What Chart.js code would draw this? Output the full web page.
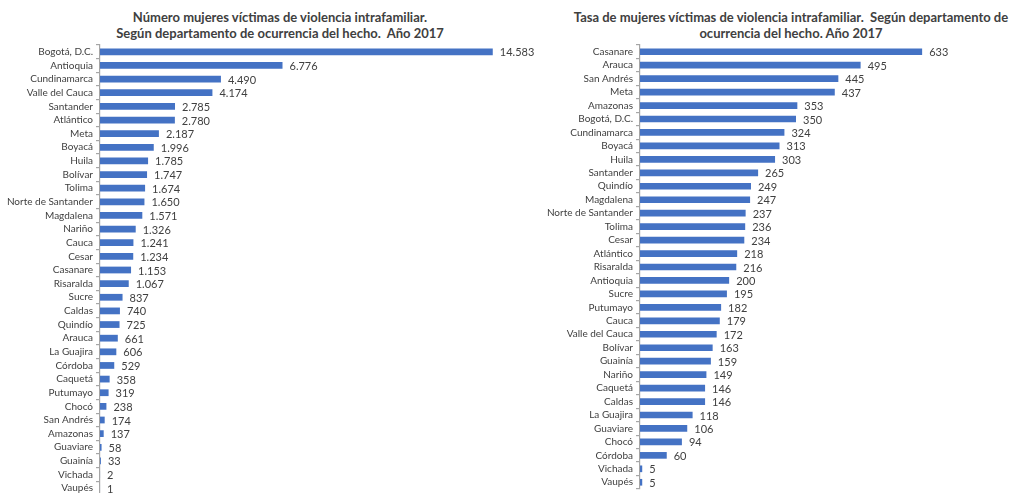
<!DOCTYPE html>
<html>
<head>
<meta charset="utf-8">
<script src="https://cdn.jsdelivr.net/npm/chart.js@4"></script>
<style>
  html, body { margin: 0; padding: 0; background: #fff; width: 1031px; height: 493px; overflow: hidden; }
  .titulo { position: absolute; font: bold 13px Lato, sans-serif; color: #404040; text-align: center; line-height: 16px; white-space: nowrap; }
  .lienzo { position: absolute; top: 0; }
</style>
</head>
<body>
<div class="titulo" style="left:0; width:560px; top:9px;">Número mujeres víctimas de violencia intrafamiliar.<br>Según departamento de ocurrencia del hecho.&nbsp; Año 2017</div>
<div class="titulo" style="left:548px; width:486px; top:9px;">Tasa de mujeres víctimas de violencia intrafamiliar.&nbsp; Según departamento de<br>ocurrencia del hecho. Año 2017</div>
<div class="lienzo" style="left:0; width:545px; height:504px;"><canvas id="graf-numero"></canvas></div>
<div class="lienzo" style="left:545px; width:486px; height:498px;"><canvas id="graf-tasa"></canvas></div>
<script>
// Número de mujeres víctimas por departamento
const deptosNumero = ['Bogotá, D.C.','Antioquia','Cundinamarca','Valle del Cauca','Santander','Atlántico','Meta','Boyacá','Huila','Bolívar','Tolima','Norte de Santander','Magdalena','Nariño','Cauca','Cesar','Casanare','Risaralda','Sucre','Caldas','Quindío','Arauca','La Guajira','Córdoba','Caquetá','Putumayo','Chocó','San Andrés','Amazonas','Guaviare','Guainía','Vichada','Vaupés'];
const valoresNumero = [14583,6776,4490,4174,2785,2780,2187,1996,1785,1747,1674,1650,1571,1326,1241,1234,1153,1067,837,740,725,661,606,529,358,319,238,174,137,58,33,2,1];

// Tasa por departamento
const deptosTasa = ['Casanare','Arauca','San Andrés','Meta','Amazonas','Bogotá, D.C.','Cundinamarca','Boyacá','Huila','Santander','Quindío','Magdalena','Norte de Santander','Tolima','Cesar','Atlántico','Risaralda','Antioquia','Sucre','Putumayo','Cauca','Valle del Cauca','Bolívar','Guainía','Nariño','Caquetá','Caldas','La Guajira','Guaviare','Chocó','Córdoba','Vichada','Vaupés'];
const valoresTasa = [633,495,445,437,353,350,324,313,303,265,249,247,237,236,234,218,216,200,195,182,179,172,163,159,149,146,146,118,106,94,60,5,5];

const AZUL = '#4472c4';
const GRIS_TXT = '#404040';
const GRIS_EJE = '#a6a6a6';
const fmt = v => v.toLocaleString('de-DE');

// etiquetas de valor al final de cada barra
const etiquetas = {
  id: 'etiquetas',
  afterDatasetsDraw(chart) {
    const { ctx } = chart;
    const meta = chart.getDatasetMeta(0);
    const datos = chart.data.datasets[0].data;
    ctx.save();
    ctx.font = '11px Lato, sans-serif';
    ctx.fillStyle = GRIS_TXT;
    ctx.textBaseline = 'middle';
    meta.data.forEach((bar, i) => {
      ctx.fillText(fmt(datos[i]), bar.x + 7, bar.y + 1);
    });
    ctx.restore();
  }
};

function crearGrafico(id, labels, data, maxX, anchoEje, padDer) {
  return new Chart(document.getElementById(id), {
    type: 'bar',
    data: {
      labels,
      datasets: [{
        data,
        backgroundColor: AZUL,
        barPercentage: 0.9,
        categoryPercentage: 0.55,
      }],
    },
    options: {
      indexAxis: 'y',
      responsive: true,
      maintainAspectRatio: false,
      animation: false,
      layout: { padding: { top: 45, right: padDer, bottom: 0, left: 0 } },
      scales: {
        x: { display: false, min: 0, max: maxX },
        y: {
          afterFit: s => { s.width = anchoEje; },
          border: { display: true, color: GRIS_EJE, width: 1.2 },
          grid: { drawOnChartArea: false, drawTicks: true, tickLength: 4, color: GRIS_EJE, lineWidth: 1.2 },
          ticks: { padding: 3, color: GRIS_TXT, font: { family: 'Lato', size: 10 }, autoSkip: false },
        },
      },
      plugins: {
        legend: { display: false },
        tooltip: { enabled: false },
      },
    },
    plugins: [etiquetas],
  });
}

crearGrafico('graf-numero', deptosNumero, valoresNumero, 15000, 100, 41);
crearGrafico('graf-tasa', deptosTasa, valoresTasa, 700, 95, 79);
</script>
</body>
</html>
